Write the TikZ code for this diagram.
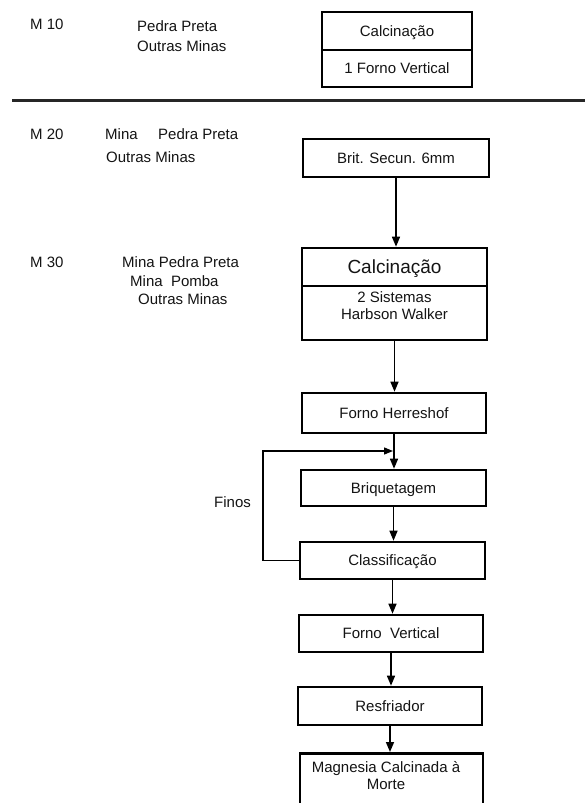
\documentclass[tikz,border=0pt]{standalone}
\usepackage{fontspec}
\setmainfont{Liberation Sans}
\usetikzlibrary{arrows.meta}
\begin{document}
\begin{tikzpicture}[x=1pt,y=-1pt,
  txt/.style={inner sep=0pt,anchor=west,font=\fontsize{15}{17}\selectfont,text=black!92},
  box/.style={draw,line width=2.6pt,inner sep=0pt,font=\fontsize{15}{17}\selectfont,align=center,text=black!92},
  one/.style={text height=11pt,text depth=1pt},
  arr/.style={line width=1.5pt,-{Triangle[length=10pt,width=8pt]}},
  fb/.style={line width=1.3pt,-{Triangle[length=9pt,width=7pt]}}]
\useasboundingbox[fill=white] (0,0) rectangle (585,803);
% ---- M 10
\node[txt] (m10) at (30,24) {M 10};
\node[txt] (m10a) at (137,26) {Pedra Preta};
\node[txt] (m10b) at (137,46) {Outras Minas};
\node[box,one,minimum width=150pt,minimum height=38pt] (t1) at (397,31) {Calcinação};
\node[box,one,minimum width=150pt,minimum height=37pt] (t2) at (397,68.5) {1 Forno Vertical};
\draw[line width=3pt,black!85] (12,100) -- (585,100);
% ---- M 20
\node[txt] (m20) at (30,134) {M 20};
\node[txt] (m20a) at (105,134) {Mina};
\node[txt] (m20b) at (158,134) {Pedra Preta};
\node[txt] (m20c) at (106,157) {Outras Minas};
\node[box,one,minimum width=186pt,minimum height=38pt] (brit) at (396,158) {Brit. Secun. 6mm};
% ---- M 30
\node[txt] (m30) at (30,262) {M 30};
\node[txt] (m30a) at (122,262) {Mina Pedra Preta};
\node[txt] (m30b) at (130,281) {Mina\ \ Pomba};
\node[txt] (m30c) at (138,299) {Outras Minas};
\node[box,minimum width=185pt,minimum height=38pt,font=\fontsize{19}{21}\selectfont,text height=14pt,text depth=1pt] (calc1) at (394.5,267) {Calcinação};
\node[box,minimum width=185pt,minimum height=54pt,text depth=14pt] (calc2) at (394.5,313) {2 Sistemas\\Harbson Walker};
\node[box,one,minimum width=184pt,minimum height=40pt] (herr) at (394,413) {Forno Herreshof};
\node[box,one,minimum width=185pt,minimum height=36pt] (briq) at (393.5,488) {Briquetagem};
\node[box,one,minimum width=185pt,minimum height=37pt] (class) at (392.5,560.5) {Classificação};
\node[box,one,minimum width=184pt,minimum height=37pt] (fv) at (391,633.5) {Forno\ \ Vertical};
\node[box,one,minimum width=184pt,minimum height=38pt] (resf) at (390,706) {Resfriador};
\node[box,minimum width=183pt,minimum height=60pt,anchor=north] (mag) at (391.5,752) {};
\node[inner sep=0pt,font=\fontsize{15}{17}\selectfont,align=center,text=black!92] (magt) at (386,776) {Magnesia Calcinada à\\Morte};
% ---- connectors
\draw[arr] (brit.south) -- (brit.south |- calc1.north);
\draw[arr] (calc2.south) -- (calc2.south |- herr.north);
\draw[arr] (herr.south) -- (herr.south |- briq.north);
\draw[arr] (briq.south) -- (briq.south |- class.north);
\draw[arr] (class.south) -- (class.south |- fv.north);
\draw[arr] (fv.south) -- (fv.south |- resf.north);
\draw[arr] (resf.south) -- (resf.south |- mag.north);
\coordinate (fbl) at (263,451);
\draw[fb] (class.west) -- (class.west -| fbl) -- (fbl) -- ([xshift=-1pt]fbl -| herr.south);
\node[txt] (finos) at (214,502) {Finos};
\end{tikzpicture}
\end{document}
